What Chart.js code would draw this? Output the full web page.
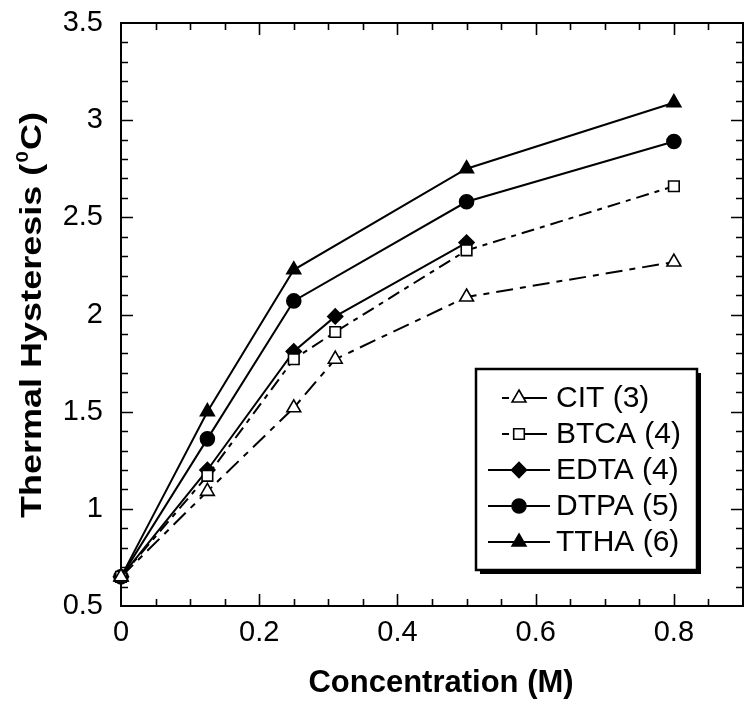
<!DOCTYPE html>
<html>
<head>
<meta charset="utf-8">
<script src="https://cdn.jsdelivr.net/npm/chart.js@4/dist/chart.umd.min.js"></script>
<style>
  html, body { margin: 0; padding: 0; background: #fff; }
  #wrap { width: 754px; height: 709px; }
</style>
</head>
<body>
<div id="wrap"><canvas id="c" width="754" height="709"></canvas></div>
<script>
// ---- data ----
const seriesNames = ['CIT (3)', 'BTCA (4)', 'EDTA (4)', 'DTPA (5)', 'TTHA (6)'];
const citX  = [0, 0.125, 0.25, 0.31, 0.5, 0.8];
const citY  = [0.65, 1.09, 1.52, 1.77, 2.09, 2.27];
const btcaX = [0, 0.125, 0.25, 0.31, 0.5, 0.8];
const btcaY = [0.65, 1.17, 1.77, 1.91, 2.33, 2.66];
const edtaX = [0, 0.125, 0.25, 0.31, 0.5];
const edtaY = [0.65, 1.20, 1.81, 1.99, 2.37];
const dtpaX = [0, 0.125, 0.25, 0.5, 0.8];
const dtpaY = [0.65, 1.36, 2.07, 2.58, 2.89];
const tthaX = [0, 0.125, 0.25, 0.5, 0.8];
const tthaY = [0.65, 1.50, 2.23, 2.75, 3.09];
const xTickValues = [0, 0.2, 0.4, 0.6, 0.8];
const yTickValues = [0.5, 1, 1.5, 2, 2.5, 3, 3.5];
const xTitle = 'Concentration (M)';
const yTitleMain = 'Thermal Hysteresis (';
const yTitleSup = '0';
const yTitleEnd = 'C)';

const pts = (xs, ys) => xs.map((x, i) => ({ x: x, y: ys[i] }));

const FONT = '"Liberation Sans", Arial, Helvetica, sans-serif';

const styles = [
  { pointStyle: 'triangle', radius: 8, fill: '#fff', dash: [17, 7, 6, 7] },
  { pointStyle: 'rect', radius: 7.5, fill: '#fff', dash: [13, 6, 5, 6] },
  { pointStyle: 'rectRot', radius: 7.5, fill: '#000', dash: [] },
  { pointStyle: 'circle', radius: 7, fill: '#000', dash: [] },
  { pointStyle: 'triangle', radius: 8, fill: '#000', dash: [] }
];
const dataArrays = [pts(citX, citY), pts(btcaX, btcaY), pts(edtaX, edtaY), pts(dtpaX, dtpaY), pts(tthaX, tthaY)];

const datasets = dataArrays.map((d, i) => ({
  label: seriesNames[i],
  data: d,
  borderColor: '#000',
  borderWidth: 2,
  borderDash: styles[i].dash,
  backgroundColor: styles[i].fill,
  pointStyle: styles[i].pointStyle,
  pointRadius: styles[i].radius,
  pointHoverRadius: styles[i].radius,
  pointBackgroundColor: styles[i].fill,
  pointBorderColor: '#000',
  pointBorderWidth: 1.6,
  fill: false,
  tension: 0,
  clip: false
}));

// frame with inward ticks on all four sides + axis titles
const framePlugin = {
  id: 'frame',
  beforeDatasetsDraw(chart) {
    const { ctx, chartArea: a, scales: { x, y } } = chart;
    ctx.save();
    ctx.strokeStyle = '#000';
    ctx.lineWidth = 2;
    ctx.setLineDash([]);
    ctx.strokeRect(a.left, a.top, a.right - a.left, a.bottom - a.top);
    ctx.lineWidth = 1.6;
    ctx.beginPath();
    for (let k = 1; k * 0.05 < x.max - 1e-9; k++) {
      const v = k * 0.05;
      const px = Math.round(x.getPixelForValue(v)) + 0.5;
      const major = xTickValues.some(t => Math.abs(t - v) < 1e-9);
      const len = major ? 12 : 7;
      ctx.moveTo(px, a.bottom); ctx.lineTo(px, a.bottom - len);
      ctx.moveTo(px, a.top); ctx.lineTo(px, a.top + len);
    }
    for (let k = 1; y.min + k * 0.1 < y.max - 1e-9; k++) {
      const v = y.min + k * 0.1;
      const py = Math.round(y.getPixelForValue(v)) + 0.5;
      const major = yTickValues.some(t => Math.abs(t - v) < 1e-9);
      const len = major ? 12 : 7;
      ctx.moveTo(a.left, py); ctx.lineTo(a.left + len, py);
      ctx.moveTo(a.right, py); ctx.lineTo(a.right - len, py);
    }
    ctx.stroke();

    // x title
    ctx.fillStyle = '#000';
    ctx.font = 'bold 31px ' + FONT;
    ctx.textAlign = 'center';
    ctx.textBaseline = 'middle';
    ctx.fillText(xTitle, 441, 683);

    // y title with superscript (slightly stretched along its length, as in the reference)
    ctx.translate(30, 315);
    ctx.rotate(-Math.PI / 2);
    ctx.scale(1.2, 1);
    ctx.font = 'bold 30px ' + FONT;
    const w1 = ctx.measureText(yTitleMain).width;
    ctx.font = 'bold 17px ' + FONT;
    const w2 = ctx.measureText(yTitleSup).width;
    ctx.font = 'bold 30px ' + FONT;
    const w3 = ctx.measureText(yTitleEnd).width;
    const total = w1 + w2 + w3 + 2;
    let sx = -total / 2;
    ctx.textAlign = 'left';
    ctx.textBaseline = 'alphabetic';
    ctx.fillText(yTitleMain, sx, 11);
    sx += w1 + 1;
    ctx.font = 'bold 17px ' + FONT;
    ctx.fillText(yTitleSup, sx, -2);
    sx += w2 + 1;
    ctx.font = 'bold 30px ' + FONT;
    ctx.fillText(yTitleEnd, sx, 11);
    ctx.restore();
  }
};

// boxed legend with drop shadow, inside the plot
const legendPlugin = {
  id: 'boxLegend',
  afterDraw(chart) {
    const { ctx } = chart;
    const bx = 476, by = 369, bw = 221, bh = 201;
    ctx.save();
    ctx.fillStyle = '#000';
    ctx.fillRect(bx + 4, by + 4, bw, bh);
    ctx.fillStyle = '#fff';
    ctx.fillRect(bx, by, bw, bh);
    ctx.strokeStyle = '#000';
    ctx.lineWidth = 2.5;
    ctx.setLineDash([]);
    ctx.strokeRect(bx, by, bw, bh);

    const rowY = [398, 434, 470, 506, 542];
    chart.data.datasets.forEach((ds, i) => {
      const yy = rowY[i];
      ctx.strokeStyle = '#000';
      ctx.lineWidth = 2;
      const dashed = ds.borderDash && ds.borderDash.length;
      ctx.setLineDash([]);
      ctx.beginPath();
      if (dashed) {
        ctx.moveTo(502, yy); ctx.lineTo(509, yy);
        ctx.moveTo(520, yy); ctx.lineTo(547, yy);
      } else {
        ctx.moveTo(488, yy); ctx.lineTo(550, yy);
      }
      ctx.stroke();
      ctx.fillStyle = ds.pointBackgroundColor;
      ctx.strokeStyle = '#000';
      ctx.lineWidth = 1.6;
      Chart.helpers.drawPoint(ctx, {
        pointStyle: ds.pointStyle,
        radius: ds.pointRadius,
        rotation: 0,
        borderWidth: 1.6
      }, 519, yy);
      ctx.fillStyle = '#000';
      ctx.font = '30px ' + FONT;
      ctx.textAlign = 'left';
      ctx.textBaseline = 'middle';
      ctx.fillText(ds.label, 556, yy + 1);
    });
    ctx.restore();
  }
};

new Chart(document.getElementById('c'), {
  type: 'line',
  data: { datasets: datasets },
  options: {
    responsive: false,
    animation: false,
    events: [],
    layout: { padding: { top: 23, right: 11, left: 0, bottom: 0 } },
    plugins: { legend: { display: false }, tooltip: { enabled: false }, title: { display: false } },
    scales: {
      x: {
        type: 'linear',
        min: 0, max: 0.9,
        grid: { display: false, drawTicks: false },
        border: { display: false },
        afterBuildTicks: s => { s.ticks = xTickValues.map(v => ({ value: v })); },
        afterFit: s => { s.height = 103; s.paddingLeft = 0; s.paddingRight = 0; },
        ticks: {
          color: '#000',
          font: { family: FONT, size: 29 },
          padding: 10,
          maxRotation: 0,
          autoSkip: false,
          callback: v => String(v)
        }
      },
      y: {
        type: 'linear',
        min: 0.5, max: 3.5,
        grid: { display: false, drawTicks: false },
        border: { display: false },
        afterBuildTicks: s => { s.ticks = yTickValues.map(v => ({ value: v })); },
        afterFit: s => { s.width = 121; s.paddingTop = 0; s.paddingBottom = 0; },
        ticks: {
          color: '#000',
          font: { family: FONT, size: 29 },
          padding: 18,
          autoSkip: false,
          callback: v => String(v)
        }
      }
    }
  },
  plugins: [framePlugin, legendPlugin]
});
</script>
</body>
</html>
